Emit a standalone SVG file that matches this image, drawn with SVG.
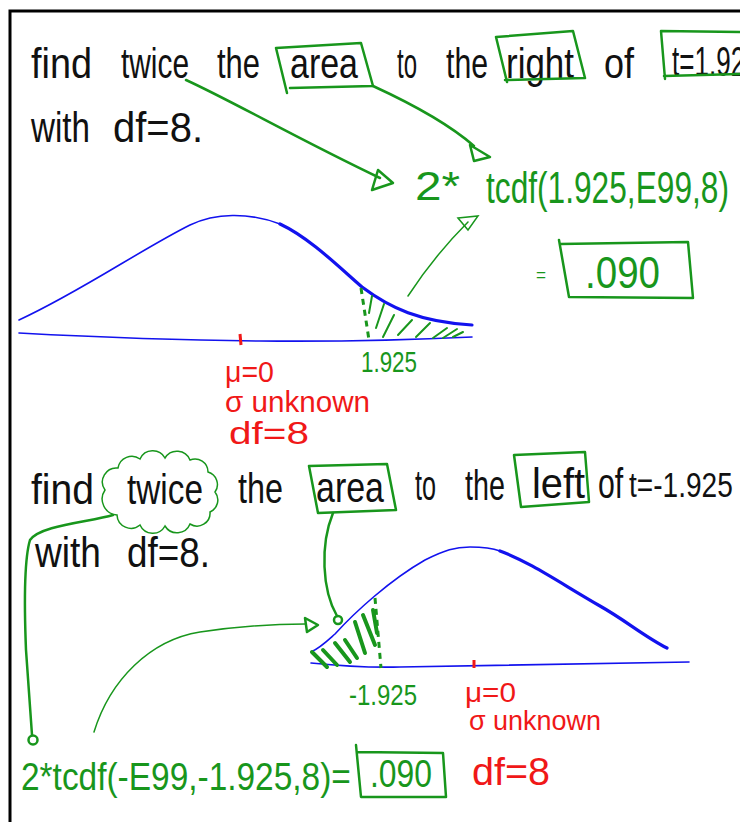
<svg xmlns="http://www.w3.org/2000/svg" width="740" height="822" viewBox="0 0 740 822">
<style>
text{font-family:"Liberation Sans","DejaVu Sans",sans-serif;}
.k{fill:#111;font-size:42px;}
.g{fill:#18961c;}
.r{fill:#f01818;}
.gs{fill:none;stroke:#18961c;stroke-width:2.5;stroke-linecap:round;stroke-linejoin:round;}
.gt{fill:none;stroke:#18961c;stroke-width:1.5;stroke-linecap:round;}
.gh{fill:none;stroke:#18961c;stroke-width:2;stroke-linecap:round;}
.gH{fill:none;stroke:#18961c;stroke-width:4;stroke-linecap:round;}
.bt{fill:none;stroke:#1212ee;stroke-width:1.6;stroke-linecap:round;}
.bT{fill:none;stroke:#1212ee;stroke-width:3.2;stroke-linecap:round;}
.dash{fill:none;stroke:#18961c;stroke-width:3;stroke-dasharray:6 5;}
</style>
<rect width="740" height="822" fill="#fff"/>
<g id="frame"><path d="M10,824 L10,11 L742,11" fill="none" stroke="#000" stroke-width="3"/></g>

<g id="q1">
<text class="k" x="31" y="78" textLength="61" lengthAdjust="spacingAndGlyphs">find</text>
<text class="k" x="121" y="78" textLength="68" lengthAdjust="spacingAndGlyphs">twice</text>
<text class="k" x="217" y="78" textLength="43" lengthAdjust="spacingAndGlyphs">the</text>
<text class="k" x="290" y="78" textLength="68" lengthAdjust="spacingAndGlyphs">area</text>
<text class="k" x="397" y="78" textLength="20" lengthAdjust="spacingAndGlyphs">to</text>
<text class="k" x="446" y="78" textLength="42" lengthAdjust="spacingAndGlyphs">the</text>
<text class="k" x="506" y="78" textLength="68" lengthAdjust="spacingAndGlyphs">right</text>
<text class="k" x="604" y="78" textLength="30" lengthAdjust="spacingAndGlyphs">of</text>
<text class="k" transform="translate(672,76) scale(0.62,1)" x="0" y="0">t=1.925</text>
<text class="k" x="31" y="142" textLength="59" lengthAdjust="spacingAndGlyphs">with</text>
<text class="k" x="113" y="142" textLength="90" lengthAdjust="spacingAndGlyphs">df=8.</text>
</g>
<g id="box-area1"><path class="gs" d="M287,93 L276,48 L361,43 L373,86 L290,88"/></g>
<g id="box-right"><path class="gs" d="M507,82 L496,37 L573,31 L585,78 L505,80"/></g>
<g id="box-t1"><path class="gs" d="M665,79 L661,31 L742,32 M664,76 L742,74"/></g>

<g id="formula1">
<text class="g" x="415" y="200" font-size="40" textLength="45" lengthAdjust="spacingAndGlyphs">2*</text>
<text class="g" transform="translate(486,203) scale(0.72,1)" x="0" y="0" font-size="44">tcdf(1.925,E99,8)</text>
</g>
<g id="result1">
<text class="g" x="536" y="281" font-size="18" textLength="10" lengthAdjust="spacingAndGlyphs">=</text>
<path class="gs" d="M559,240 L569,297 L693,298 L688,242 L560,244"/>
<text class="g" x="585" y="288" font-size="44" textLength="75" lengthAdjust="spacingAndGlyphs">.090</text>
</g>

<g id="graph1">
<path class="bt" d="M19,320 C80,292 140,250 190,225 C215,213 248,212 280,224"/>
<path class="bT" d="M280,224 C310,238 340,268 362,287 C390,308 420,322 472,325"/>
<path class="bt" d="M19,333 Q150,340 260,341 T472,337" stroke-width="2"/>
<path d="M240,334 L241,345" stroke="#f01818" stroke-width="3" fill="none"/>
<path class="dash" d="M361,288 L369,340"/>
<path class="gh" d="M372,296 L369,313 M384,304 L376,328 M394,315 L383,337 M412,320 L398,335 M430,323 L416,337 M447,328 L433,338 M457,329 L443,338 M463,332 L453,337"/>
<text class="g" x="361" y="372" font-size="30" textLength="56" lengthAdjust="spacingAndGlyphs">1.925</text>
<text class="r" x="225" y="382" font-size="29" textLength="49" lengthAdjust="spacingAndGlyphs">μ=0</text>
<text class="r" x="225" y="412" font-size="29" textLength="145" lengthAdjust="spacingAndGlyphs">σ unknown</text>
<text class="r" x="229" y="444" font-size="31" textLength="80" lengthAdjust="spacingAndGlyphs">df=8</text>
</g>

<g id="q2">
<text class="k" x="31" y="504" textLength="63" lengthAdjust="spacingAndGlyphs">find</text>
<text class="k" x="127" y="504" textLength="76" lengthAdjust="spacingAndGlyphs">twice</text>
<text class="k" x="238" y="503" textLength="45" lengthAdjust="spacingAndGlyphs">the</text>
<text class="k" x="316" y="502" textLength="68" lengthAdjust="spacingAndGlyphs">area</text>
<text class="k" x="415" y="500" textLength="21" lengthAdjust="spacingAndGlyphs">to</text>
<text class="k" x="465" y="500" textLength="40" lengthAdjust="spacingAndGlyphs">the</text>
<text class="k" x="532" y="498" textLength="53" lengthAdjust="spacingAndGlyphs">left</text>
<text class="k" transform="translate(598,498) scale(0.72,1)" x="0" y="0">of</text>
<text class="k" transform="translate(629,497) scale(0.78,1)" x="0" y="0" style="font-size:36px">t=-1.925</text>
<text class="k" x="35" y="567" textLength="66" lengthAdjust="spacingAndGlyphs">with</text>
<text class="k" x="127" y="567" textLength="83" lengthAdjust="spacingAndGlyphs">df=8.</text>
</g>
<g id="cloud-twice"><path class="gt" d="M105,490 A14,14 0 0 1 118,468 A14,14 0 0 1 140,459 A14,14 0 0 1 165,458 A14,14 0 0 1 190,460 A13,13 0 0 1 208,472 A13,13 0 0 1 215,492 A13,13 0 0 1 210,512 A13,13 0 0 1 190,524 A14,14 0 0 1 165,526 A14,14 0 0 1 140,525 A14,14 0 0 1 117,515 A16,16 0 0 1 105,490 Z" stroke-width="2"/></g>
<g id="box-area2"><path class="gs" d="M318,513 L309,466 L387,464 L396,510 L318,513"/></g>
<g id="box-left"><path class="gs" d="M521,507 L514,455 L585,452 L589,502 L521,507"/></g>

<g id="graph2">
<path class="bt" d="M311,652 C320,648 325,643 335,634 C355,612 390,580 425,560 C445,550 455,547 470,547 C485,547 492,548 500,551"/>
<path class="bT" d="M500,551 C530,562 560,583 600,606 C625,620 645,637 667,648"/>
<path class="bt" d="M311,663 Q360,668 400,667 T689,662" stroke-width="2"/>
<path d="M474,660 L474,668" stroke="#f01818" stroke-width="3" fill="none"/>
<path class="dash" d="M375,598 L381,668" stroke-dasharray="5 9"/>
<path class="gH" d="M312,652 L327,667 M323,650 L337,665 M335,643 L350,662 M345,640 L357,658 M355,622 L365,653 M363,615 L375,645 M373,610 L377,633"/>
<text class="g" x="349" y="705" font-size="29" textLength="68" lengthAdjust="spacingAndGlyphs">-1.925</text>
<text class="r" x="465" y="702" font-size="27" textLength="51" lengthAdjust="spacingAndGlyphs">μ=0</text>
<text class="r" x="469" y="730" font-size="27" textLength="132" lengthAdjust="spacingAndGlyphs">σ unknown</text>
</g>

<g id="formula2">
<text class="g" transform="translate(21,790) scale(0.88,1)" x="0" y="0" font-size="38">2*tcdf(-E99,-1.925,8)=</text>
<path class="gs" d="M356,745 L361,797 L446,797 L443,753 L357,752"/>
<text class="g" x="370" y="787" font-size="38" textLength="62" lengthAdjust="spacingAndGlyphs">.090</text>
<text class="r" x="472" y="785" font-size="38" textLength="78" lengthAdjust="spacingAndGlyphs">df=8</text>
</g>

<g id="connectors">
<path class="gs" d="M186,80 C230,100 300,140 380,178"/>
<path class="gs" d="M378,170 L393,183 L372,190 Z"/>
<path class="gs" d="M373,86 C410,103 450,125 474,146"/>
<path class="gs" d="M470,145 L490,157 L474,161 Z"/>
<path class="gt" d="M408,296 C425,270 445,245 468,222"/>
<path class="gt" d="M458,218 L478,216 L468,230 Z" stroke-width="2"/>
<path class="gs" d="M113,515 C90,522 40,525 30,540 C24,560 24,600 26,650 L32,735"/>
<circle class="gs" cx="33" cy="740" r="4.5"/>
<path class="gs" d="M333,513 C320,545 322,590 337,616"/>
<circle class="gs" cx="338" cy="620" r="4"/>
<path class="gt" d="M94,732 C110,680 150,640 200,632 C240,626 280,624 305,624"/>
<path class="gs" d="M305,618 L318,625 L307,632 Z" stroke-width="2"/>
</g>
</svg>
